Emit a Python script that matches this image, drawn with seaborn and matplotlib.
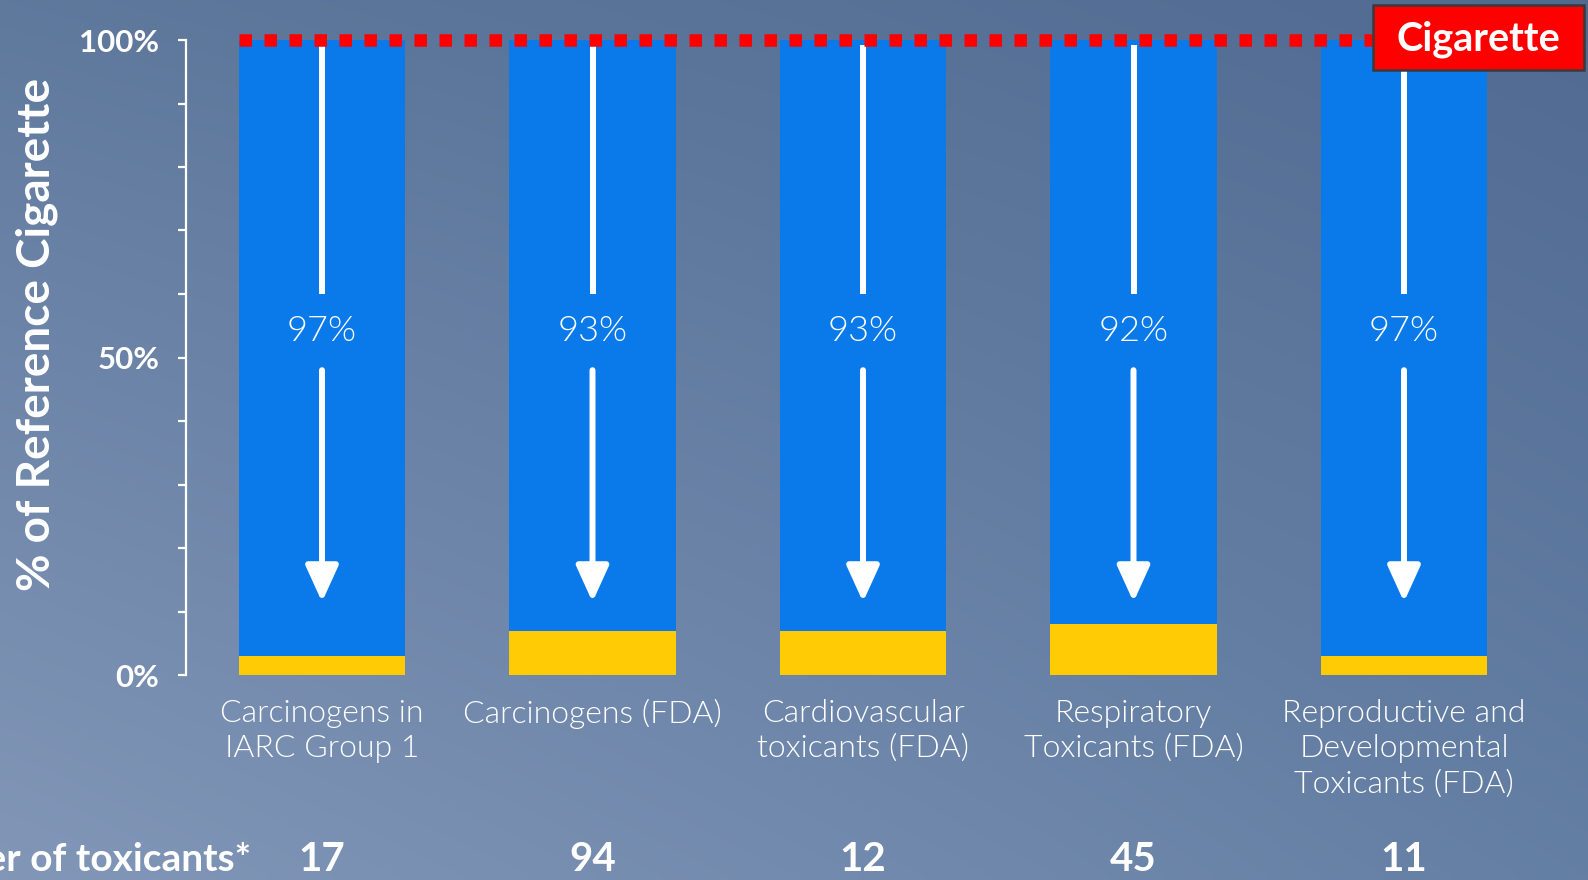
import numpy as np
import pandas as pd
import matplotlib
matplotlib.use("Agg")
import matplotlib.pyplot as plt
from matplotlib.patches import Rectangle
import seaborn as sns

# ---- data ----
categories = [
    "Carcinogens in\nIARC Group 1",
    "Carcinogens (FDA)",
    "Cardiovascular\ntoxicants (FDA)",
    "Respiratory\nToxicants (FDA)",
    "Reproductive and\nDevelopmental\nToxicants (FDA)",
]
reduction_pct = [97, 93, 93, 92, 97]
toxicant_counts = [17, 94, 12, 45, 11]
reference_level = 100
y_ticks = [0, 50, 100]
y_tick_labels = ["0%", "50%", "100%"]

df = pd.DataFrame({
    "category": categories,
    "reference": [reference_level] * len(categories),
    "remaining": [reference_level - r for r in reduction_pct],
})

BLUE = "#0a7aea"
YELLOW = "#fecb05"
RED = "#ff0000"
WHITE = "white"

sns.set_style("white")
plt.rcParams["font.family"] = ["Lato", "DejaVu Sans"]

W, H = 1588, 880
fig = plt.figure(figsize=(W / 100, H / 100), dpi=100)

# ---- gradient backdrop ----
bg = fig.add_axes([0, 0, 1, 1], zorder=-10)
tl = np.array([95, 121, 157]) / 255
tr = np.array([80, 106, 146]) / 255
bl = np.array([130, 151, 184]) / 255
br = np.array([100, 127, 164]) / 255
u = np.linspace(0, 1, 200)[None, :, None]
v = np.linspace(0, 1, 120)[:, None, None]
grad = (1 - v) * ((1 - u) * tl + u * tr) + v * ((1 - u) * bl + u * br)
bg.imshow(grad, aspect="auto", extent=[0, 1, 0, 1], interpolation="bilinear")
bg.axis("off")

# ---- main axes ----
x_left_px, x_right_px = 186, 1570
y_top_px, y_bot_px = 40, 675
ax = fig.add_axes([x_left_px / W, 1 - y_bot_px / H,
                   (x_right_px - x_left_px) / W, (y_bot_px - y_top_px) / H])
ax.patch.set_alpha(0)

bar_w = 0.614
sns.barplot(data=df, x="category", y="reference", color=BLUE, saturation=1,
            width=bar_w, linewidth=0, edgecolor="none", ax=ax, zorder=2)
sns.barplot(data=df, x="category", y="remaining", color=YELLOW, saturation=1,
            width=bar_w, linewidth=0, edgecolor="none", ax=ax, zorder=3)

px_per_unit = 270.5
x0 = -(322 - x_left_px) / px_per_unit
ax.set_xlim(x0, x0 + (x_right_px - x_left_px) / px_per_unit)
ax.set_ylim(0, 100)

for s in ["top", "right", "bottom"]:
    ax.spines[s].set_visible(False)
ax.spines["left"].set_color(WHITE)
ax.spines["left"].set_linewidth(1.6)

ax.set_yticks(y_ticks)
ax.set_yticklabels(y_tick_labels)
ax.set_yticks(np.arange(0, 101, 10), minor=True)
ax.tick_params(axis="y", which="both", left=True, length=6, width=1.6,
               color=WHITE, labelcolor=WHITE, pad=13)
for lab in ax.get_yticklabels():
    lab.set_fontsize(22.5)
    lab.set_fontweight("bold")

ax.set_xticks(range(len(categories)))
ax.set_xticklabels(categories, color=WHITE, fontsize=23, fontweight=300,
                   linespacing=1.28)
ax.tick_params(axis="x", length=0, pad=17)
ax.set_xlabel("")
ax.set_ylabel("")

# ---- reference line at 100% ----
ax.plot([-0.305, 3.9], [reference_level, reference_level], color=RED, lw=9,
        linestyle=(0, (1, 1)), dash_capstyle="butt", solid_capstyle="butt",
        zorder=6, clip_on=False)

# ---- arrows with reduction labels ----
for i, r in enumerate(reduction_pct):
    ax.plot([i, i], [99.2, 60], color=WHITE, lw=4.3, solid_capstyle="butt",
            zorder=5)
    ax.text(i, 54.2, f"{r}%", color=WHITE, fontsize=26, fontweight=300,
            ha="center", va="center", zorder=5)
    ax.annotate("", xy=(i, 11.5), xytext=(i, 48),
                arrowprops=dict(arrowstyle="-|>,head_length=22,head_width=10",
                                mutation_scale=1, lw=4.3, color=WHITE,
                                shrinkA=0, shrinkB=0),
                zorder=5)

# ---- toxicant counts row ----
count_y = 1 - 859 / H
for i, n in enumerate(toxicant_counts):
    xf = (322 + i * px_per_unit) / W
    fig.text(xf, count_y, str(n), color=WHITE, fontsize=29, fontweight="bold",
             ha="center", va="center")
fig.text(251 / W, count_y, "Number of toxicants*", color=WHITE, fontsize=28,
         fontweight="bold", ha="right", va="center")

# ---- y axis title ----
fig.text(37 / W, 1 - 334 / H, "% of Reference Cigarette", color=WHITE,
         fontsize=33, fontweight="bold", rotation=90, ha="center", va="center")

# ---- legend tag ----
bx0, bx1, by0, by1 = 1373, 1584, 5, 70
fig.patches.append(Rectangle((bx0 / W, 1 - by1 / H), (bx1 - bx0) / W,
                             (by1 - by0) / H, transform=fig.transFigure,
                             facecolor=RED, edgecolor="#3a3a3a", lw=1.8,
                             zorder=20))
fig.text((bx0 + bx1) / 2 / W, 1 - 39 / H, "Cigarette", color=WHITE,
         fontsize=28.5, fontweight="bold", ha="center", va="center", zorder=21)

fig.savefig("out.png", dpi=100)
